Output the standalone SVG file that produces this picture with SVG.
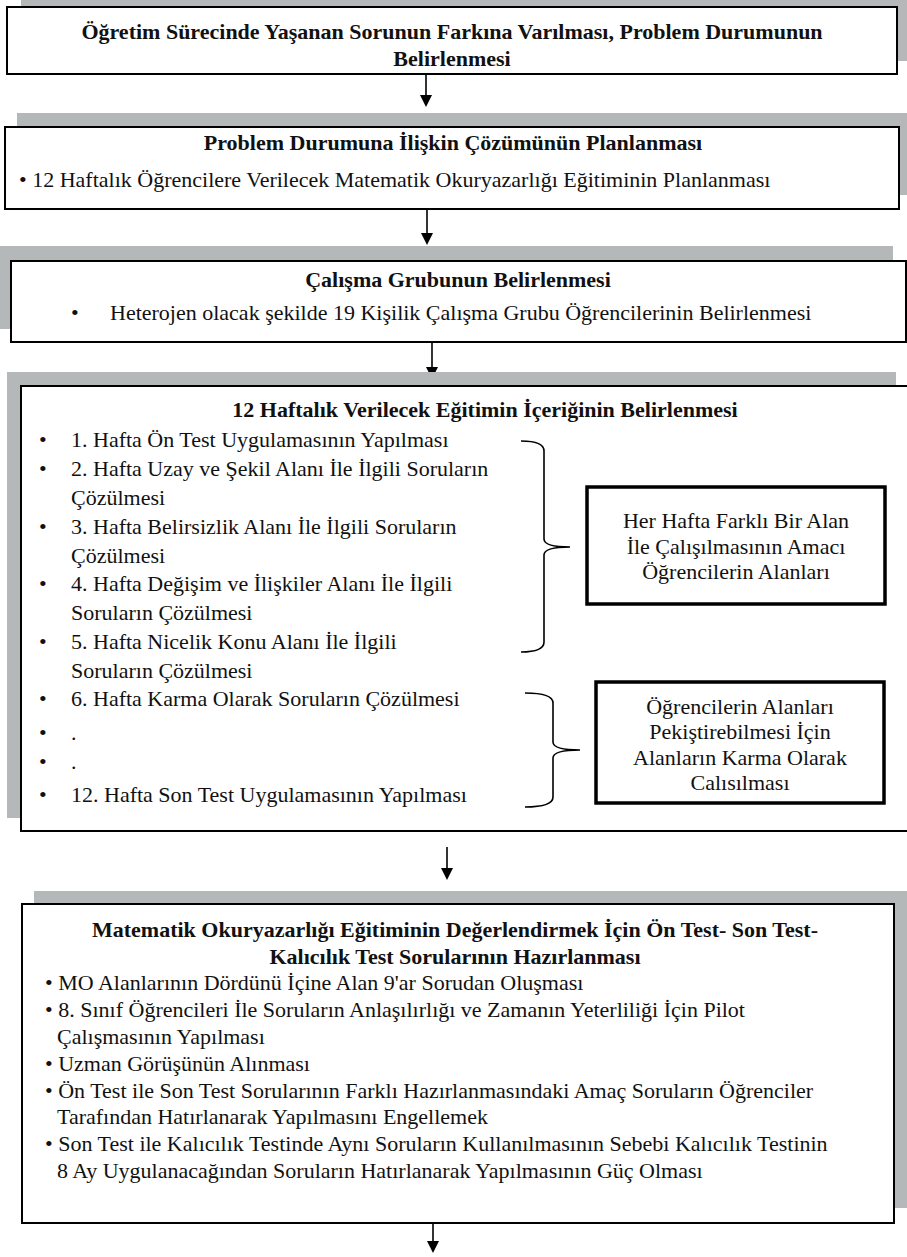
<svg xmlns="http://www.w3.org/2000/svg" width="907" height="1257" viewBox="0 0 907 1257">
<style>
.sh{fill:#b5b8b8;stroke:none}
.bx{fill:#fff;stroke:#000;stroke-width:2}
.tk{fill:#fff;stroke:#000;stroke-width:3.5}
.t{font-size:22px;fill:#111}
.b{font-weight:bold}
.c{text-anchor:middle}
.br{fill:none;stroke:#000;stroke-width:1.6}
.ar{stroke:#000;stroke-width:1.6}
</style>
<rect width="907" height="1257" fill="#fff"/>

<g id="connectors">
<line class="ar" x1="426" y1="74" x2="426" y2="96"/><path d="M420,95 L432,95 L426,107 Z"/>
<line class="ar" x1="427" y1="209" x2="427" y2="234"/><path d="M421,233 L433,233 L427,245 Z"/>
<line class="ar" x1="432" y1="342" x2="432" y2="368"/><path d="M426,367 L438,367 L432,379 Z"/>
<line class="ar" x1="447" y1="847" x2="447" y2="869"/><path d="M441,868 L453,868 L447,880 Z"/>
<line class="ar" x1="433" y1="1223" x2="433" y2="1242"/><path d="M427,1241 L439,1241 L433,1253 Z"/>
</g>

<g font-family="'Liberation Serif', 'Times New Roman', Tinos, 'DejaVu Serif', serif">
<g id="node1">
<rect class="sh" x="21" y="-6" width="890" height="67"/>
<rect class="bx" x="7" y="7" width="890" height="67"/>
<text class="t b c" x="452" y="39">Öğretim Sürecinde Yaşanan Sorunun Farkına Varılması, Problem Durumunun</text>
<text class="t b c" x="452" y="66">Belirlenmesi</text>
</g>

<g id="node2">
<rect class="sh" x="17" y="113" width="895" height="82"/>
<rect class="bx" x="5" y="127" width="894" height="82"/>
<text class="t b c" x="453" y="150">Problem Durumuna İlişkin Çözümünün Planlanması</text>
<text class="t" x="19" y="187">• 12 Haftalık Öğrencilere Verilecek Matematik Okuryazarlığı Eğitiminin Planlanması</text>
</g>

<g id="node3">
<rect class="sh" x="0" y="246" width="893" height="83"/>
<rect class="bx" x="11" y="261" width="895" height="81"/>
<text class="t b c" x="458" y="287">Çalışma Grubunun Belirlenmesi</text>
<text class="t" x="71" y="320">•</text>
<text class="t" x="110" y="320">Heterojen olacak şekilde 19 Kişilik Çalışma Grubu Öğrencilerinin Belirlenmesi</text>
</g>

<g id="node4">
<rect class="sh" x="7" y="372" width="889" height="446"/>
<rect class="bx" x="21" y="386" width="890" height="445"/>
<text class="t b c" x="485" y="417">12 Haftalık Verilecek Eğitimin İçeriğinin Belirlenmesi</text>
<g class="t">
<text x="39" y="447">•</text><text x="71" y="447">1. Hafta Ön Test Uygulamasının Yapılması</text>
<text x="39" y="476">•</text><text x="71" y="476">2. Hafta Uzay ve Şekil Alanı İle İlgili Soruların</text>
<text x="71" y="505">Çözülmesi</text>
<text x="39" y="534">•</text><text x="71" y="534">3. Hafta Belirsizlik Alanı İle İlgili Soruların</text>
<text x="71" y="563">Çözülmesi</text>
<text x="39" y="591">•</text><text x="71" y="591">4. Hafta Değişim ve İlişkiler Alanı İle İlgili</text>
<text x="71" y="620">Soruların Çözülmesi</text>
<text x="39" y="649">•</text><text x="71" y="649">5. Hafta Nicelik Konu Alanı İle İlgili</text>
<text x="71" y="678">Soruların Çözülmesi</text>
<text x="39" y="706">•</text><text x="71" y="706">6. Hafta Karma Olarak Soruların Çözülmesi</text>
<text x="39" y="740">•</text><text x="71" y="740">.</text>
<text x="39" y="769">•</text><text x="71" y="769">.</text>
<text x="39" y="802">•</text><text x="71" y="802">12. Hafta Son Test Uygulamasının Yapılması</text>
</g>
<path class="br" d="M521,441 Q544,441 544,451 L544,539 Q544,547 570,547 Q544,547 544,555 L544,642 Q544,652 521,652"/>
<path class="br" d="M525,693 Q553,693 553,703 L553,742 Q553,750 580,750 Q553,750 553,758 L553,797 Q553,807 525,807"/>
</g>

<g id="node4a">
<rect class="tk" x="587" y="487" width="298" height="117"/>
<text class="t c" x="736" y="528">Her Hafta Farklı Bir Alan</text>
<text class="t c" x="736" y="554">İle Çalışılmasının Amacı</text>
<text class="t c" x="736" y="579">Öğrencilerin Alanları</text>
</g>

<g id="node4b">
<rect class="tk" x="596" y="682" width="288" height="121"/>
<text class="t c" x="740" y="714">Öğrencilerin Alanları</text>
<text class="t c" x="740" y="739">Pekiştirebilmesi İçin</text>
<text class="t c" x="740" y="765">Alanların Karma Olarak</text>
<text class="t c" x="740" y="790">Calısılması</text>
</g>

<g id="node5">
<rect class="sh" x="34" y="891" width="880" height="317"/>
<rect class="bx" x="22" y="904" width="872" height="319"/>
<text class="t b c" x="455" y="937">Matematik Okuryazarlığı Eğitiminin Değerlendirmek İçin Ön Test- Son Test-</text>
<text class="t b c" x="455" y="964">Kalıcılık Test Sorularının Hazırlanması</text>
<g class="t">
<text x="45" y="990">• MO Alanlarının Dördünü İçine Alan 9'ar Sorudan Oluşması</text>
<text x="45" y="1017">• 8. Sınıf Öğrencileri İle Soruların Anlaşılırlığı ve Zamanın Yeterliliği İçin Pilot</text>
<text x="57" y="1044">Çalışmasının Yapılması</text>
<text x="45" y="1071">• Uzman Görüşünün Alınması</text>
<text x="45" y="1098">• Ön Test ile Son Test Sorularının Farklı Hazırlanmasındaki Amaç Soruların Öğrenciler</text>
<text x="57" y="1124">Tarafından Hatırlanarak Yapılmasını Engellemek</text>
<text x="45" y="1151">• Son Test ile Kalıcılık Testinde Aynı Soruların Kullanılmasının Sebebi Kalıcılık Testinin</text>
<text x="57" y="1178">8 Ay Uygulanacağından Soruların Hatırlanarak Yapılmasının Güç Olması</text>
</g>
</g>
</g>
</svg>
